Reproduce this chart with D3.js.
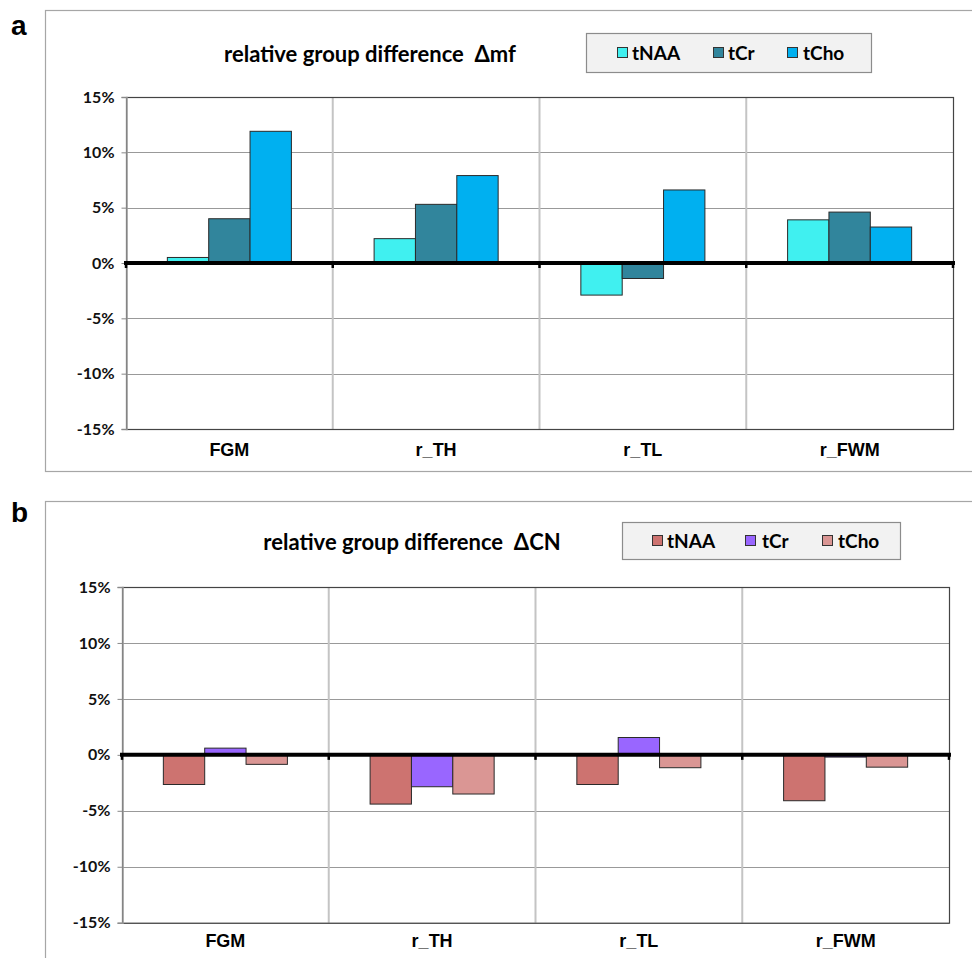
<!DOCTYPE html>
<html><head><meta charset="utf-8">
<script src="https://cdn.jsdelivr.net/npm/d3@7"></script>
<style>body{margin:0;background:#fff}svg{display:block}</style>
</head><body>
<svg id="c" width="972" height="958"></svg>
<script>
const categories = ["FGM", "r_TH", "r_TL", "r_FWM"];
const seriesNames = ["tNAA", "tCr", "tCho"];
// panel a: relative group difference Δmf (%)
const mfNAA = [0.5, 2.2, -2.9, 3.9];
const mfCr  = [4.0, 5.3, -1.4, 4.6];
const mfCho = [11.9, 7.9, 6.6, 3.25];
// panel b: relative group difference ΔCN (%)
const cnNAA = [-2.65, -4.4, -2.65, -4.1];
const cnCr  = [0.6, -2.85, 1.55, -0.2];
const cnCho = [-0.85, -3.5, -1.15, -1.1];
const yTicks = [-15, -10, -5, 0, 5, 10, 15];
const colorsA = ["#40F0F0", "#31859C", "#00B0F0"];
const colorsB = ["#CD7370", "#9966FF", "#DA9694"];

const svg = d3.select("#c");
const titleFont = "Lato, 'Open Sans', sans-serif";
const armFont = "'Liberation Sans', Arial, sans-serif";

function panel(cfg) {
  const g = svg.append("g");
  g.append("rect").attr("x", cfg.frame[0] + 0.5).attr("y", cfg.frame[1] + 0.5)
    .attr("width", cfg.frame[2]).attr("height", cfg.frame[3])
    .attr("fill", "#fff").attr("stroke", "#a6a6a6").attr("stroke-width", 1.2);
  g.append("text").attr("x", cfg.label[0]).attr("y", cfg.label[1])
    .attr("font-family", armFont).attr("font-weight", "bold").attr("font-size", 28)
    .text(cfg.letter);
  const [x0, x1, yTop, yBot] = cfg.plot;
  const y = d3.scaleLinear().domain([-15, 15]).range([yBot, yTop]);
  const xb = d3.scaleBand().domain(categories).range([x0, x1]).padding(0);
  const bw = xb.bandwidth();
  const xs = d3.scaleBand().domain(seriesNames).range([bw * 0.2, bw * 0.8]).padding(0);

  g.append("g").selectAll("line").data(yTicks).join("line")
    .attr("x1", x0).attr("x2", x1)
    .attr("y1", d => Math.round(y(d)) + 0.5).attr("y2", d => Math.round(y(d)) + 0.5)
    .attr("stroke", "#999").attr("stroke-width", 1);
  const bounds = categories.map(c => xb(c)).concat([x1]);
  g.append("g").selectAll("line").data(bounds.slice(1, 4)).join("line")
    .attr("x1", d => d).attr("x2", d => d).attr("y1", yTop).attr("y2", yBot)
    .attr("stroke", "#c4c4c4").attr("stroke-width", 2);
  g.append("rect").attr("x", x0 + 0.5).attr("y", Math.round(yTop) + 0.5)
    .attr("width", x1 - x0).attr("height", yBot - yTop)
    .attr("fill", "none").attr("stroke", "#444").attr("stroke-width", 1.2);
  const ya = g.append("g").attr("transform", `translate(${x0 + 0.5},0)`)
    .call(d3.axisLeft(y).tickValues(yTicks).tickSize(5).tickFormat(d => d + "%"));
  ya.select(".domain").attr("stroke", "#999").attr("stroke-width", 1.5);
  ya.selectAll(".tick line").attr("stroke", "#888");
  ya.selectAll("text").attr("font-family", titleFont).attr("font-weight", "bold")
    .attr("font-size", 16).attr("fill", "#111").attr("dx", "-4");

  const vals = cfg.values;
  seriesNames.forEach((s, si) => {
    g.append("g").selectAll("rect").data(categories).join("rect")
      .attr("x", (c) => xb(c) + xs(s))
      .attr("width", xs.bandwidth())
      .attr("y", (c, i) => y(Math.max(0, vals[si][i])))
      .attr("height", (c, i) => Math.abs(y(vals[si][i]) - y(0)))
      .attr("fill", cfg.colors[si]).attr("stroke", "#2a2a2a").attr("stroke-width", 1);
  });

  g.append("line").attr("x1", x0 - 2).attr("x2", x1 + 2).attr("y1", y(0)).attr("y2", y(0))
    .attr("stroke", "#000").attr("stroke-width", 4);
  g.append("g").selectAll("line").data(bounds).join("line")
    .attr("x1", d => d).attr("x2", d => d).attr("y1", y(0)).attr("y2", y(0) + 5)
    .attr("stroke", "#000").attr("stroke-width", 2.5);

  g.append("g").selectAll("text").data(categories).join("text")
    .attr("x", c => xb(c) + bw / 2).attr("y", cfg.catY)
    .attr("text-anchor", "middle").attr("font-family", armFont)
    .attr("font-weight", "bold").attr("font-size", 18).text(c => c);

  g.append("text").attr("x", cfg.title[0]).attr("y", cfg.title[1])
    .attr("text-anchor", "middle").attr("font-family", titleFont)
    .attr("font-weight", "bold").attr("font-size", 22).attr("xml:space", "preserve")
    .text(cfg.titleText);

  const L = cfg.legend;
  g.append("rect").attr("x", L.box[0] + 0.5).attr("y", L.box[1] + 0.5)
    .attr("width", L.box[2]).attr("height", L.box[3])
    .attr("fill", "#f2f2f2").attr("stroke", "#8c8c8c").attr("stroke-width", 1.2);
  seriesNames.forEach((s, si) => {
    g.append("rect").attr("x", L.sq[si] + 0.5).attr("y", L.cy - 5.5)
      .attr("width", 10).attr("height", 10)
      .attr("fill", cfg.colors[si]).attr("stroke", "#333").attr("stroke-width", 1);
    g.append("text").attr("x", L.tx[si]).attr("y", L.cy + 7)
      .attr("font-family", titleFont).attr("font-weight", "bold").attr("font-size", 19)
      .text(s);
  });
}

panel({
  letter: "a", label: [11, 35],
  frame: [45, 10, 940, 461],
  plot: [126, 953, 97, 429],
  values: [mfNAA, mfCr, mfCho], colors: colorsA,
  catY: 456,
  title: [370, 62], titleText: "relative group difference  \u0394mf",
  legend: { box: [586, 33, 285, 39], cy: 53, sq: [617, 713, 787], tx: [632, 728, 803] }
});
panel({
  letter: "b", label: [11, 522],
  frame: [45, 501, 940, 470],
  plot: [122, 949, 587, 922.7],
  values: [cnNAA, cnCr, cnCho], colors: colorsB,
  catY: 947,
  title: [412, 550], titleText: "relative group difference  \u0394CN",
  legend: { box: [622, 522, 278, 37], cy: 541, sq: [652, 745, 822], tx: [667, 762, 838] }
});
</script>
</body></html>
